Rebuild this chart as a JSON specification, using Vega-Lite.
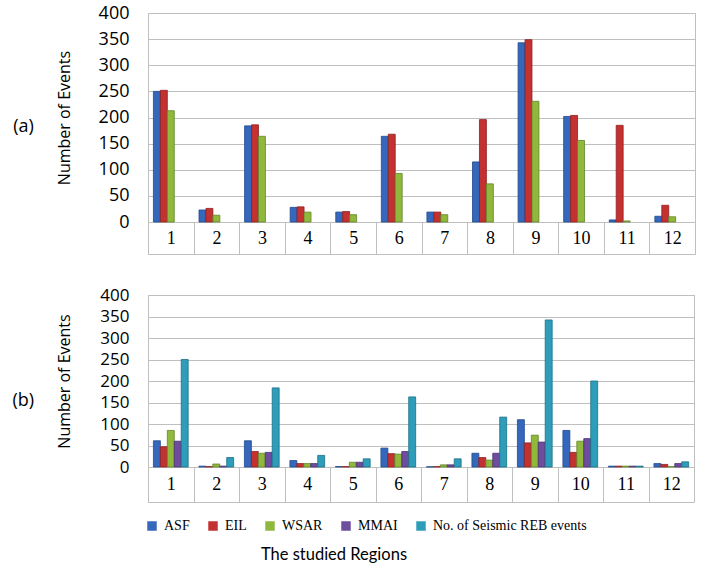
{
  "$schema": "https://vega.github.io/schema/vega-lite/v6.json",
  "padding": {"left": 11, "top": 3, "right": 5, "bottom": 5},
  "background": "white",
  "datasets": {
    "a": [
      {"region": 1, "series": "ASF", "value": 250}, {"region": 1, "series": "EIL", "value": 252}, {"region": 1, "series": "WSAR", "value": 213},
      {"region": 2, "series": "ASF", "value": 23}, {"region": 2, "series": "EIL", "value": 26}, {"region": 2, "series": "WSAR", "value": 13},
      {"region": 3, "series": "ASF", "value": 184}, {"region": 3, "series": "EIL", "value": 186}, {"region": 3, "series": "WSAR", "value": 164},
      {"region": 4, "series": "ASF", "value": 28}, {"region": 4, "series": "EIL", "value": 29}, {"region": 4, "series": "WSAR", "value": 19},
      {"region": 5, "series": "ASF", "value": 19}, {"region": 5, "series": "EIL", "value": 20}, {"region": 5, "series": "WSAR", "value": 14},
      {"region": 6, "series": "ASF", "value": 164}, {"region": 6, "series": "EIL", "value": 168}, {"region": 6, "series": "WSAR", "value": 93},
      {"region": 7, "series": "ASF", "value": 19}, {"region": 7, "series": "EIL", "value": 19}, {"region": 7, "series": "WSAR", "value": 14},
      {"region": 8, "series": "ASF", "value": 115}, {"region": 8, "series": "EIL", "value": 196}, {"region": 8, "series": "WSAR", "value": 73},
      {"region": 9, "series": "ASF", "value": 343}, {"region": 9, "series": "EIL", "value": 349}, {"region": 9, "series": "WSAR", "value": 231},
      {"region": 10, "series": "ASF", "value": 202}, {"region": 10, "series": "EIL", "value": 204}, {"region": 10, "series": "WSAR", "value": 156},
      {"region": 11, "series": "ASF", "value": 4}, {"region": 11, "series": "EIL", "value": 185}, {"region": 11, "series": "WSAR", "value": 2},
      {"region": 12, "series": "ASF", "value": 11}, {"region": 12, "series": "EIL", "value": 32}, {"region": 12, "series": "WSAR", "value": 10}
    ],
    "b": [
      {"region": 1, "series": "ASF", "value": 61}, {"region": 1, "series": "EIL", "value": 47}, {"region": 1, "series": "WSAR", "value": 85}, {"region": 1, "series": "MMAI", "value": 60}, {"region": 1, "series": "No. of Seismic REB events", "value": 250},
      {"region": 2, "series": "ASF", "value": 2}, {"region": 2, "series": "EIL", "value": 1}, {"region": 2, "series": "WSAR", "value": 7}, {"region": 2, "series": "MMAI", "value": 2}, {"region": 2, "series": "No. of Seismic REB events", "value": 22},
      {"region": 3, "series": "ASF", "value": 61}, {"region": 3, "series": "EIL", "value": 36}, {"region": 3, "series": "WSAR", "value": 32}, {"region": 3, "series": "MMAI", "value": 34}, {"region": 3, "series": "No. of Seismic REB events", "value": 184},
      {"region": 4, "series": "ASF", "value": 15}, {"region": 4, "series": "EIL", "value": 8}, {"region": 4, "series": "WSAR", "value": 8}, {"region": 4, "series": "MMAI", "value": 8}, {"region": 4, "series": "No. of Seismic REB events", "value": 27},
      {"region": 5, "series": "ASF", "value": 1}, {"region": 5, "series": "EIL", "value": 1}, {"region": 5, "series": "WSAR", "value": 11}, {"region": 5, "series": "MMAI", "value": 11}, {"region": 5, "series": "No. of Seismic REB events", "value": 19},
      {"region": 6, "series": "ASF", "value": 44}, {"region": 6, "series": "EIL", "value": 31}, {"region": 6, "series": "WSAR", "value": 30}, {"region": 6, "series": "MMAI", "value": 36}, {"region": 6, "series": "No. of Seismic REB events", "value": 163},
      {"region": 7, "series": "ASF", "value": 0.5}, {"region": 7, "series": "EIL", "value": 1}, {"region": 7, "series": "WSAR", "value": 5}, {"region": 7, "series": "MMAI", "value": 5}, {"region": 7, "series": "No. of Seismic REB events", "value": 19},
      {"region": 8, "series": "ASF", "value": 32}, {"region": 8, "series": "EIL", "value": 22}, {"region": 8, "series": "WSAR", "value": 16}, {"region": 8, "series": "MMAI", "value": 32}, {"region": 8, "series": "No. of Seismic REB events", "value": 116},
      {"region": 9, "series": "ASF", "value": 110}, {"region": 9, "series": "EIL", "value": 56}, {"region": 9, "series": "WSAR", "value": 74}, {"region": 9, "series": "MMAI", "value": 58}, {"region": 9, "series": "No. of Seismic REB events", "value": 342},
      {"region": 10, "series": "ASF", "value": 85}, {"region": 10, "series": "EIL", "value": 34}, {"region": 10, "series": "WSAR", "value": 60}, {"region": 10, "series": "MMAI", "value": 66}, {"region": 10, "series": "No. of Seismic REB events", "value": 200},
      {"region": 11, "series": "ASF", "value": 2}, {"region": 11, "series": "EIL", "value": 2}, {"region": 11, "series": "WSAR", "value": 2}, {"region": 11, "series": "MMAI", "value": 2}, {"region": 11, "series": "No. of Seismic REB events", "value": 2},
      {"region": 12, "series": "ASF", "value": 8}, {"region": 12, "series": "EIL", "value": 6}, {"region": 12, "series": "WSAR", "value": 1}, {"region": 12, "series": "MMAI", "value": 8}, {"region": 12, "series": "No. of Seismic REB events", "value": 12}
    ]
  },
  "title": {"text": "The studied Regions", "orient": "bottom", "font": "Lato", "fontSize": 16.5, "fontWeight": "normal", "color": "black", "anchor": "middle", "dx": -20, "offset": 13},
  "config": {
    "view": {"stroke": "#BFBFBF"},
    "title": {"font": "Open Sans", "fontSize": 18, "fontWeight": "normal", "color": "black"}
  },
  "resolve": {"scale": {"color": "independent", "stroke": "independent"}},
  "spacing": 30,
  "vconcat": [
    {
      "width": 547,
      "height": 209,
      "title": {"text": "(a)", "orient": "left", "angle": 0, "offset": 12, "anchor": "middle", "font": "Open Sans", "fontSize": 18, "fontWeight": "normal", "color": "black"},
      "data": {"name": "a"},
      "mark": {"type": "bar", "strokeWidth": 0.8},
      "encoding": {
        "x": {"field": "region", "type": "ordinal", "scale": {"paddingInner": 0, "paddingOuter": 0},
          "axis": {"orient": "bottom", "offset": 32, "tickSize": -32, "tickBand": "extent", "tickColor": "#BFBFBF", "domainColor": "#BFBFBF", "labelAngle": 0, "labelFont": "Liberation Serif", "labelFontSize": 18, "labelColor": "black", "labelPadding": 16, "labelBaseline": "middle", "title": null, "grid": false}},
        "xOffset": {"field": "series", "sort": ["ASF", "EIL", "WSAR"], "scale": {"paddingOuter": 0.78, "paddingInner": 0}},
        "y": {"field": "value", "type": "quantitative", "scale": {"domain": [0, 400]},
          "axis": {"values": [0, 50, 100, 150, 200, 250, 300, 350, 400], "domain": false, "ticks": false, "grid": true, "gridColor": "#BFBFBF", "labelFont": "Open Sans", "labelFontSize": 18, "labelColor": "black", "labelPadding": 19, "title": "Number of Events", "titleFont": "Open Sans", "titleFontSize": 16, "titleFontWeight": "normal", "titleColor": "black", "titlePadding": 26}},
        "color": {"field": "series", "type": "nominal", "scale": {"domain": ["ASF", "EIL", "WSAR"], "range": ["#3568BC", "#C33230", "#8FB83C"]}, "legend": null},
        "stroke": {"field": "series", "type": "nominal", "scale": {"domain": ["ASF", "EIL", "WSAR"], "range": ["#1F4A8C", "#8E1F1E", "#62852A"]}, "legend": null}
      }
    },
    {
      "width": 546,
      "height": 172,
      "title": {"text": "(b)", "orient": "left", "angle": 0, "offset": 12, "anchor": "middle", "dy": 11, "font": "Open Sans", "fontSize": 18, "fontWeight": "normal", "color": "black"},
      "data": {"name": "b"},
      "mark": {"type": "bar", "strokeWidth": 0.8},
      "encoding": {
        "x": {"field": "region", "type": "ordinal", "scale": {"paddingInner": 0, "paddingOuter": 0},
          "axis": {"orient": "bottom", "offset": 35, "tickSize": -35, "tickBand": "extent", "tickColor": "#BFBFBF", "domainColor": "#BFBFBF", "labelAngle": 0, "labelFont": "Liberation Serif", "labelFontSize": 18, "labelColor": "black", "labelPadding": 17, "labelBaseline": "middle", "title": null, "grid": false}},
        "xOffset": {"field": "series", "sort": ["ASF", "EIL", "WSAR", "MMAI", "No. of Seismic REB events"], "scale": {"paddingOuter": 0.75, "paddingInner": 0}},
        "y": {"field": "value", "type": "quantitative", "scale": {"domain": [0, 400]},
          "axis": {"values": [0, 50, 100, 150, 200, 250, 300, 350, 400], "domain": false, "ticks": false, "grid": true, "gridColor": "#BFBFBF", "labelFont": "Open Sans", "labelFontSize": 17, "labelColor": "black", "labelPadding": 19, "title": "Number of Events", "titleFont": "Open Sans", "titleFontSize": 16, "titleFontWeight": "normal", "titleColor": "black", "titlePadding": 27}},
        "color": {"field": "series", "type": "nominal",
          "scale": {"domain": ["ASF", "EIL", "WSAR", "MMAI", "No. of Seismic REB events"], "range": ["#3568BC", "#C33230", "#8FB83C", "#6E4C9E", "#2E9DBA"]},
          "legend": {"orient": "none", "legendX": -3, "legendY": 224, "direction": "horizontal", "title": null, "symbolType": "square", "symbolSize": 90, "symbolStrokeWidth": 0, "labelFont": "Liberation Serif", "labelFontSize": 14, "labelColor": "black", "labelOffset": 5, "columnPadding": 16}},
        "stroke": {"field": "series", "type": "nominal",
          "scale": {"domain": ["ASF", "EIL", "WSAR", "MMAI", "No. of Seismic REB events"], "range": ["#1F4A8C", "#8E1F1E", "#62852A", "#4A3270", "#1B6F85"]}, "legend": null}
      }
    }
  ]
}
